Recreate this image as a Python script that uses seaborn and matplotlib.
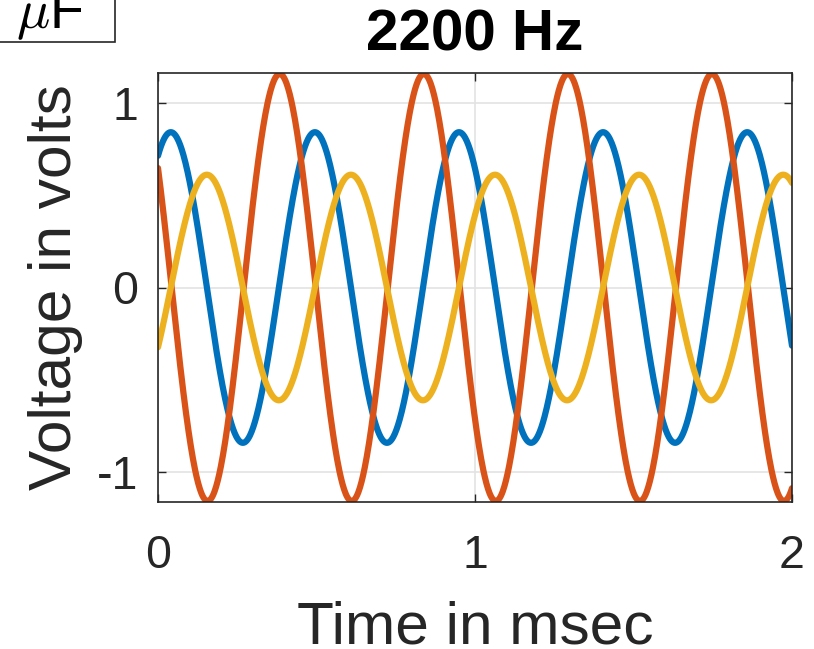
import numpy as np
import pandas as pd
import seaborn as sns
import matplotlib.pyplot as plt
from matplotlib.patches import Rectangle

# Signal parameters
freq_hz = 2200
series_names = ["V_R", "V_C", "V_L"]
amplitudes = [0.84, 1.155, 0.61]          # volts
phases_deg = [58.0, 146.0, -32.0]         # degrees at t = 0
colors = ["#0072BD", "#D95319", "#EDB120"]

x_ticks = [0, 1, 2]
y_ticks = [-1, 0, 1]
t_ms = np.linspace(0, 2, 1200)

frames = []
for name, amp, ph in zip(series_names, amplitudes, phases_deg):
    v = amp * np.sin(2 * np.pi * freq_hz * t_ms * 1e-3 + np.deg2rad(ph))
    frames.append(pd.DataFrame({"t": t_ms, "v": v, "series": name}))
df = pd.concat(frames, ignore_index=True)

sns.set_theme(style="white")
plt.rcParams["font.family"] = ["Liberation Sans", "DejaVu Sans"]
plt.rcParams["mathtext.fontset"] = "cm"

W, H = 814, 649
fig = plt.figure(figsize=(W / 100, H / 100), dpi=100)
ax = fig.add_axes([158 / W, 1 - 502 / H, (792 - 158) / W, (502 - 73) / H])

sns.lineplot(data=df, x="t", y="v", hue="series", hue_order=series_names,
             palette=colors, linewidth=4.5, legend=False, ax=ax, sort=False)

ax.set_xlim(0, 2)
ax.set_ylim(-1.16, 1.16)
ax.set_xticks(x_ticks)
ax.set_yticks(y_ticks)
ax.set_xticklabels([str(v) for v in x_ticks])
ax.set_yticklabels([str(v) for v in y_ticks])
ax.grid(True, color="#E3E3E3", linewidth=1.2)
ax.set_axisbelow(True)

for s in ax.spines.values():
    s.set_visible(True)
    s.set_color("#262626")
    s.set_linewidth(1.2)

ax.tick_params(axis="both", direction="in", length=6, width=1.0,
               colors="#262626", labelsize=33.5, labelcolor="#262626",
               top=True, right=True, bottom=True, left=True)
ax.tick_params(axis="x", pad=23)
ax.tick_params(axis="y", pad=14)

ax.set_xlabel("Time in msec", fontsize=43.5, color="#262626", labelpad=16)
ax.set_ylabel("Voltage in volts", fontsize=43.5, color="#262626", labelpad=10)
ax.set_title("2200 Hz", fontsize=42, fontweight="bold", color="black", pad=16)

# Annotation box at the upper-left corner, partly outside the figure
fig.patches.append(Rectangle((-10 / W, 1 - 42 / H), 125 / W, 60 / H,
                             transform=fig.transFigure, fill=False,
                             edgecolor="#262626", linewidth=1.2))
fig.text(16 / W, 1 - 28 / H, r"$\mu$F", fontsize=40, color="black",
         ha="left", va="baseline")

fig.savefig("out.png", dpi=100)
